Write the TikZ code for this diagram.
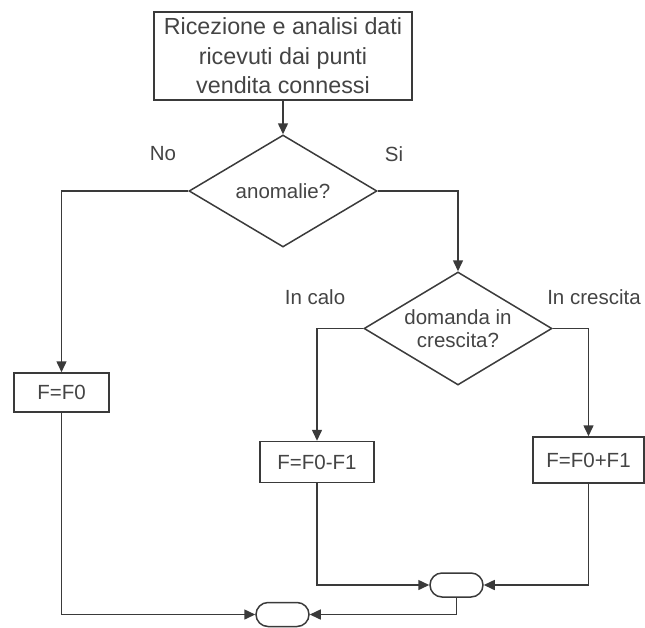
\documentclass[tikz,border=0pt]{standalone}
\usepackage{fontspec}
\setmainfont{Liberation Sans}
\usetikzlibrary{arrows.meta,shapes.geometric,shapes.misc}
\definecolor{edgegray}{RGB}{58,58,58}
\definecolor{textgray}{RGB}{68,68,68}
\begin{document}
\begin{tikzpicture}[x=1pt,y=-1pt,
  every node/.style={font=\fontsize{20.5}{23.5}\selectfont, text=textgray},
  procbox/.style={draw=edgegray, line width=1.5pt, rectangle, inner sep=0pt, align=center},
  decision/.style={draw=edgegray, line width=1.5pt, diamond, inner sep=0pt,
                   minimum width=188pt, minimum height=112pt},
  terminal/.style={draw=edgegray, line width=1.5pt, rounded rectangle,
                   minimum width=53pt, minimum height=24pt, inner sep=0pt},
  flow/.style={draw=edgegray, line width=1.5pt, -{Triangle[length=11pt,width=10pt]}},
  branchlabel/.style={inner sep=0pt},
]
\useasboundingbox (0,0) rectangle (645,627);

% process boxes
\node[procbox, minimum width=258pt, minimum height=88pt,
      font=\fontsize{23.3}{29.5}\selectfont] (receive) at (283,56)
  {Ricezione e analisi dati\\ricevuti dai punti\\vendita connessi};
\node[procbox, minimum width=95pt, minimum height=39pt] (keep) at (61.5,392.5) {F=F0};
\node[procbox, minimum width=114pt, minimum height=41pt] (lower) at (317,462) {F=F0-F1};
\node[procbox, minimum width=111pt, minimum height=46pt] (raise) at (588.5,460) {F=F0+F1};

% decisions
\node[decision, label={center:anomalie?}] (anomaly) at (283,191) {};
\node[decision, minimum height=113pt,
      label={[align=center, font=\fontsize{20.5}{23.5}\selectfont]center:domanda in\\crescita?}]
  (demand) at (458,328.5) {};

% merge terminals
\node[terminal] (mergeA) at (456.5,585) {};
\node[terminal] (mergeB) at (282.5,614.5) {};

% branch labels
\node[branchlabel] (lblNo) at (163,154) {No};
\node[branchlabel] (lblSi) at (394,154) {Si};
\node[branchlabel] (lblDown) at (315,297) {In calo};
\node[branchlabel] (lblUp) at (594,297) {In crescita};

% connectors
\draw[flow] (receive.south) -- (anomaly.north);
\draw[flow] (anomaly.west) -| (keep.north);
\draw[flow] (anomaly.east) -| (demand.north);
\draw[flow] (demand.west) -| (lower.north);
\draw[flow] (demand.east) -| (raise.north);
\draw[flow] (lower.south) |- (mergeA.west);
\draw[flow] (raise.south) |- (mergeA.east);
\draw[flow] (mergeA.south) |- (mergeB.east);
\draw[flow] (keep.south) |- (mergeB.west);
\end{tikzpicture}
\end{document}
